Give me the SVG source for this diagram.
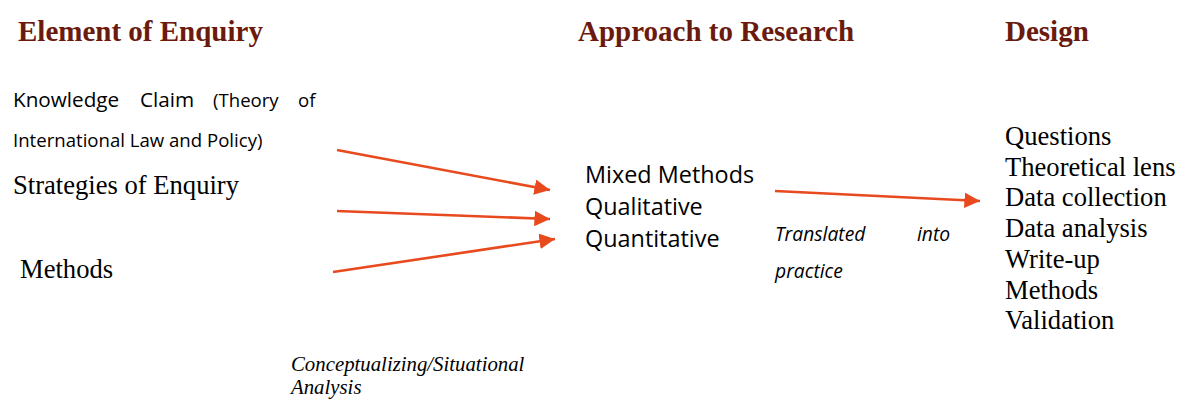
<svg xmlns="http://www.w3.org/2000/svg" width="1178" height="399" viewBox="0 0 1178 399">
<defs>
<style>
.h{font-family:"Liberation Serif",serif;font-weight:bold;font-size:29px;fill:#6B1A0E}
.sr{font-family:"Liberation Serif",serif;font-size:26.6px;fill:#000}
.ss{font-family:"Open Sans","Noto Sans",sans-serif;fill:#000}
.it{font-family:"Open Sans","Noto Sans",sans-serif;font-style:italic;font-size:19.3px;fill:#000}
.sri{font-family:"Liberation Serif",serif;font-style:italic;font-size:20.8px;fill:#000}
.c{stroke:#E84A1E;stroke-width:2.6;fill:none}
</style>
<marker id="ah" viewBox="0 0 10 10" refX="10" refY="5" markerWidth="6" markerHeight="6" markerUnits="strokeWidth" orient="auto">
<path d="M0,0 L10,5 L0,10 z" fill="#E84A1E"/>
</marker>
</defs>
<rect width="1178" height="399" fill="#fff"/>
<g id="headers">
<text class="h" x="18" y="41">Element of Enquiry</text>
<text class="h" x="578" y="41">Approach to Research</text>
<text class="h" x="1005" y="41">Design</text>
</g>
<g id="elements">
<text class="ss" font-size="20.7" x="13" y="107">Knowledge</text>
<text class="ss" font-size="20.7" x="140" y="107">Claim</text>
<text class="ss" font-size="18.6" x="213" y="107">(Theory</text>
<text class="ss" font-size="18.6" x="298" y="107">of</text>
<text class="ss" font-size="18.6" x="13" y="147">International Law and Policy)</text>
<text class="sr" x="13" y="194">Strategies of Enquiry</text>
<text class="sr" x="20" y="278">Methods</text>
</g>
<g id="approach">
<text class="ss" font-size="23.4" x="585" y="183">Mixed Methods</text>
<text class="ss" font-size="23.4" x="585" y="215">Qualitative</text>
<text class="ss" font-size="23.4" x="585" y="247">Quantitative</text>
</g>
<g id="translated">
<text class="it" x="775" y="240.5">Translated</text>
<text class="it" x="917" y="240.5">into</text>
<text class="it" x="775" y="278">practice</text>
</g>
<g id="design">
<text class="sr" x="1005" y="145">Questions</text>
<text class="sr" x="1005" y="175.7">Theoretical lens</text>
<text class="sr" x="1005" y="206.4">Data collection</text>
<text class="sr" x="1005" y="237.1">Data analysis</text>
<text class="sr" x="1005" y="267.8">Write-up</text>
<text class="sr" x="1005" y="298.5">Methods</text>
<text class="sr" x="1005" y="329.2">Validation</text>
</g>
<g id="situational">
<text class="sri" x="291" y="371">Conceptualizing/Situational</text>
<text class="sri" x="291" y="394">Analysis</text>
</g>
<g id="connectors">
<line class="c" x1="337" y1="150" x2="550" y2="190" marker-end="url(#ah)"/>
<line class="c" x1="337" y1="211" x2="550" y2="219" marker-end="url(#ah)"/>
<line class="c" x1="333" y1="272" x2="555" y2="239" marker-end="url(#ah)"/>
<line class="c" x1="775" y1="191" x2="980" y2="201" marker-end="url(#ah)"/>
</g>
</svg>
